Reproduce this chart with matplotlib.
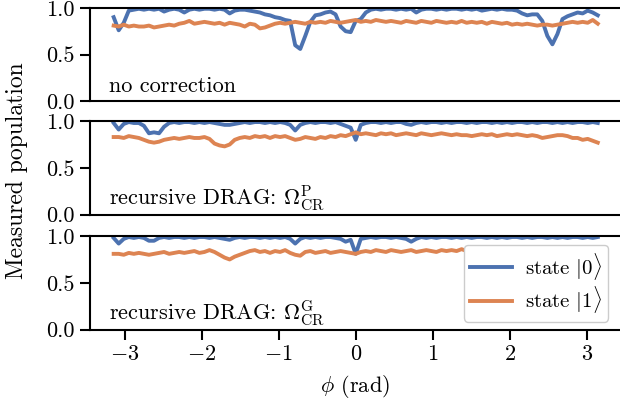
import numpy as np
import matplotlib
matplotlib.use("Agg")
import matplotlib.pyplot as plt

plt.rcParams['font.family'] = 'serif'
plt.rcParams['font.serif'] = ['cmr10', 'DejaVu Serif']
plt.rcParams['mathtext.fontset'] = 'cm'
plt.rcParams['axes.formatter.use_mathtext'] = True
plt.rcParams['font.size'] = 16

# phase sweep from -pi to pi
phi = np.linspace(-np.pi, np.pi, 97)

# no correction
p0_none = [0.90, 0.76, 0.84, 0.97, 0.98, 0.99, 0.98, 0.99, 0.98, 0.99,
           0.96, 0.98, 0.99, 0.98, 0.95, 0.98, 0.99, 0.98, 0.99, 0.99,
           0.98, 0.99, 0.98, 0.94, 0.97, 0.98, 0.98, 0.97, 0.96, 0.95,
           0.93, 0.92, 0.90, 0.89, 0.87, 0.86, 0.60, 0.56, 0.70, 0.85,
           0.92, 0.93, 0.95, 0.96, 0.93, 0.80, 0.75, 0.74, 0.86, 0.88,
           0.95, 0.98, 0.99, 0.98, 0.99, 0.99, 0.98, 0.99, 0.98, 0.99,
           0.95, 0.98, 0.99, 0.99, 0.98, 0.99, 0.98, 0.99, 0.99, 0.98,
           0.99, 0.98, 0.99, 0.97, 0.98, 0.99, 0.98, 0.99, 0.98, 0.98,
           0.97, 0.94, 0.92, 0.93, 0.93, 0.86, 0.70, 0.61, 0.72, 0.88,
           0.91, 0.93, 0.95, 0.94, 0.97, 0.95, 0.92]
p1_none = [0.81, 0.80, 0.82, 0.80, 0.81, 0.80, 0.80, 0.81, 0.79, 0.80,
           0.81, 0.82, 0.81, 0.83, 0.84, 0.86, 0.83, 0.84, 0.85, 0.84,
           0.83, 0.84, 0.82, 0.84, 0.83, 0.82, 0.80, 0.83, 0.82, 0.78,
           0.79, 0.81, 0.83, 0.84, 0.83, 0.84, 0.85, 0.84, 0.83, 0.85,
           0.84, 0.85, 0.84, 0.86, 0.85, 0.84, 0.85, 0.86, 0.87, 0.85,
           0.86, 0.85, 0.87, 0.86, 0.85, 0.86, 0.85, 0.84, 0.86, 0.85,
           0.84, 0.86, 0.85, 0.84, 0.86, 0.85, 0.84, 0.85, 0.84, 0.86,
           0.84, 0.85, 0.84, 0.85, 0.83, 0.85, 0.84, 0.83, 0.84, 0.82,
           0.83, 0.82, 0.83, 0.82, 0.81, 0.82, 0.82, 0.81, 0.82, 0.83,
           0.84, 0.85, 0.84, 0.85, 0.84, 0.87, 0.83]

# recursive DRAG, Omega_CR^P
p0_P = [0.98, 0.91, 0.97, 0.99, 0.98, 0.98, 0.95, 0.87, 0.88, 0.87,
        0.94, 0.98, 0.99, 0.98, 0.99, 0.99, 0.98, 0.99, 0.98, 0.99,
        0.98, 0.97, 0.96, 0.96, 0.97, 0.98, 0.99, 0.98, 0.99, 0.99,
        0.98, 0.99, 0.98, 0.99, 0.98, 0.96, 0.90, 0.96, 0.98, 0.99,
        0.98, 0.99, 0.99, 0.98, 0.99, 0.97, 0.95, 0.93, 0.80, 0.96,
        0.98, 0.99, 0.99, 0.98, 0.99, 0.98, 0.99, 0.99, 0.97, 0.96,
        0.98, 0.99, 0.98, 0.99, 0.99, 0.98, 0.99, 0.98, 0.99, 0.99,
        0.98, 0.99, 0.98, 0.99, 0.99, 0.98, 0.99, 0.98, 0.99, 0.98,
        0.99, 0.99, 0.98, 0.99, 0.98, 0.99, 0.99, 0.98, 0.99, 0.98,
        0.99, 0.98, 0.99, 0.99, 0.98, 0.99, 0.98]
p1_P = [0.83, 0.83, 0.82, 0.84, 0.83, 0.82, 0.80, 0.78, 0.77, 0.78,
        0.80, 0.81, 0.82, 0.81, 0.82, 0.83, 0.82, 0.82, 0.83, 0.81,
        0.76, 0.74, 0.73, 0.75, 0.80, 0.82, 0.83, 0.82, 0.84, 0.83,
        0.84, 0.82, 0.84, 0.83, 0.84, 0.82, 0.80, 0.81, 0.83, 0.82,
        0.81, 0.83, 0.82, 0.84, 0.83, 0.85, 0.84, 0.86, 0.88, 0.86,
        0.87, 0.86, 0.85, 0.87, 0.86, 0.87, 0.85, 0.86, 0.87, 0.86,
        0.85, 0.87, 0.86, 0.85, 0.86, 0.87, 0.86, 0.85, 0.86, 0.85,
        0.85, 0.84, 0.85, 0.86, 0.85, 0.86, 0.84, 0.85, 0.86, 0.85,
        0.86, 0.85, 0.84, 0.85, 0.84, 0.82, 0.83, 0.84, 0.85, 0.85,
        0.84, 0.82, 0.82, 0.80, 0.81, 0.79, 0.77]

# recursive DRAG, Omega_CR^G
p0_G = [0.98, 0.92, 0.97, 0.99, 0.98, 0.99, 0.98, 0.95, 0.95, 0.98,
        0.99, 0.98, 0.99, 0.99, 0.98, 0.99, 0.98, 0.99, 0.99, 0.98,
        0.99, 0.98, 0.97, 0.96, 0.98, 0.99, 0.98, 0.99, 0.99, 0.98,
        0.99, 0.98, 0.99, 0.98, 0.99, 0.97, 0.92, 0.97, 0.99, 0.98,
        0.99, 0.98, 0.99, 0.99, 0.98, 0.97, 0.94, 0.96, 0.81, 0.97,
        0.98, 0.99, 0.98, 0.99, 0.99, 0.98, 0.99, 0.98, 0.97, 0.94,
        0.97, 0.99, 0.98, 0.99, 0.98, 0.99, 0.99, 0.98, 0.99, 0.98,
        0.99, 0.98, 0.99, 0.99, 0.98, 0.99, 0.98, 0.99, 0.98, 0.99,
        0.99, 0.98, 0.99, 0.98, 0.99, 0.99, 0.98, 0.99, 0.98, 0.99,
        0.98, 0.99, 0.99, 0.98, 0.99, 0.98, 0.99]
p1_G = [0.81, 0.81, 0.80, 0.82, 0.81, 0.82, 0.81, 0.80, 0.81, 0.82,
        0.83, 0.81, 0.82, 0.83, 0.82, 0.83, 0.84, 0.82, 0.83, 0.85,
        0.83, 0.80, 0.77, 0.75, 0.78, 0.80, 0.82, 0.84, 0.85, 0.83,
        0.84, 0.82, 0.84, 0.83, 0.85, 0.82, 0.80, 0.79, 0.83, 0.84,
        0.82, 0.83, 0.84, 0.82, 0.83, 0.84, 0.83, 0.82, 0.81, 0.83,
        0.84, 0.83, 0.85, 0.84, 0.83, 0.85, 0.84, 0.83, 0.84, 0.85,
        0.83, 0.84, 0.85, 0.84, 0.83, 0.85, 0.84, 0.85, 0.84, 0.86,
        0.84, 0.85, 0.83, 0.84, 0.85, 0.84, 0.83, 0.84, 0.83, 0.82,
        0.83, 0.84, 0.83, 0.82, 0.81, 0.80, 0.80, 0.81, 0.82, 0.81,
        0.82, 0.81, 0.83, 0.82, 0.81, 0.83, 0.80]

labels = ['no correction',
          r'recursive DRAG: $\Omega_{\rm CR}^{\rm P}$',
          r'recursive DRAG: $\Omega_{\rm CR}^{\rm G}$']
series = [(p0_none, p1_none), (p0_P, p1_P), (p0_G, p1_G)]

blue = '#4C72B0'
orange = '#DD8452'

fig = plt.figure(figsize=(6.2, 4.12), dpi=100)
tops = [0.981, 0.706, 0.427]
h = 0.227
left = 0.145
axes = []
for k, (s0, s1) in enumerate(series):
    ax = fig.add_axes([left, tops[k] - h, 1.0 - left, h])
    ax.plot(phi, s0, color=blue, lw=2.8, label=r'state $|0\rangle$')
    ax.plot(phi, s1, color=orange, lw=2.8, label=r'state $|1\rangle$')
    ax.set_xlim(-3.45, 3.43)
    ax.set_ylim(0, 1)
    ax.set_yticks([0, 0.5, 1.0])
    ax.set_yticklabels(['0.0', '0.5', '1.0'])
    ax.spines['right'].set_visible(False)
    for sp in ['left', 'bottom', 'top']:
        ax.spines[sp].set_linewidth(1.5)
    ax.tick_params(width=1.5, length=7, pad=4)
    ax.text(0.036, 0.1, labels[k], transform=ax.transAxes, va='baseline')
    if k < 2:
        ax.tick_params(axis='x', bottom=False, labelbottom=False)
    axes.append(ax)

axes[2].set_xticks([-3, -2, -1, 0, 1, 2, 3])
axes[2].set_xlabel(r'$\phi$ (rad)', labelpad=6)
axes[2].legend(loc='lower right', bbox_to_anchor=(0.977, 0.085), borderaxespad=0,
               fontsize=15, handlelength=2.0, handletextpad=0.6,
               labelspacing=0.12, borderpad=0.3, fancybox=True,
               edgecolor='#cccccc', framealpha=1.0)
fig.text(0.028, 0.585, 'Measured population', rotation=90, va='center',
         ha='center', fontsize=17)

fig.savefig('out.png', dpi=100)
